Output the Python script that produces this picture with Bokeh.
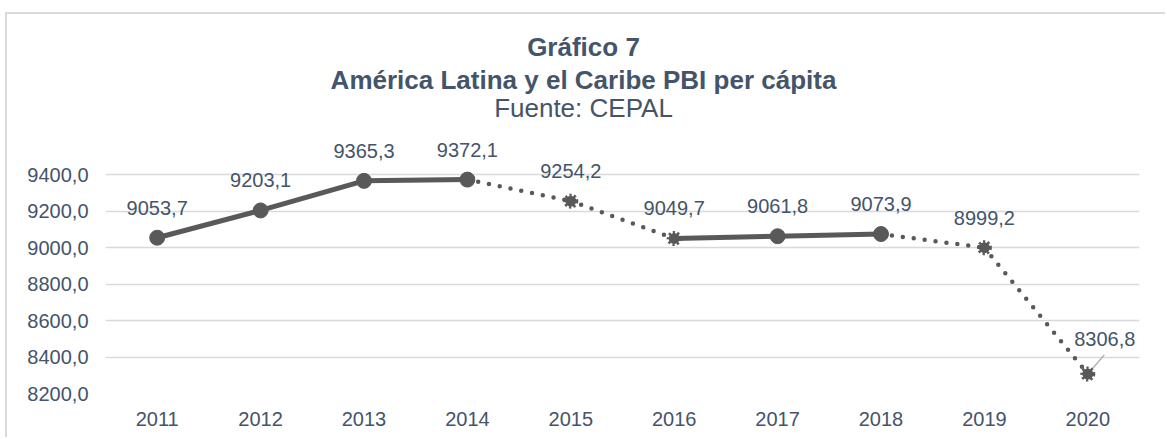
from bokeh.plotting import figure
from bokeh.models import ColumnDataSource, FixedTicker, Label
from bokeh.transform import dodge
from bokeh.core.properties import value
from bokeh.embed import file_html
from bokeh.resources import INLINE

years = ["2011", "2012", "2013", "2014", "2015", "2016", "2017", "2018", "2019", "2020"]
pbi = [9053.7, 9203.1, 9365.3, 9372.1, 9254.2, 9049.7, 9061.8, 9073.9, 8999.2, 8306.8]
labels = ["9053,7", "9203,1", "9365,3", "9372,1", "9254,2", "9049,7", "9061,8", "9073,9", "8999,2", "8306,8"]
# marker kind per point and line style per interval (as in the original chart)
marker_kind = ["c", "c", "c", "c", "g", "g", "c", "c", "g", "g"]
interval_dotted = [False, False, False, True, True, False, False, True, True]
yticks = [8200, 8400, 8600, 8800, 9000, 9200, 9400]
ytick_labels = ["8200,0", "8400,0", "8600,0", "8800,0", "9000,0", "9200,0", "9400,0"]

TXT = "#44546A"
LINE = "#595959"
FONT = "Liberation Sans"

# the frame spans the full height so the title lines can sit inside it
p = figure(x_range=years, y_range=(8200, 10277), width=1160, height=425,
           output_backend="svg", toolbar_location=None,
           min_border_left=98, min_border_right=28, min_border_top=0, min_border_bottom=46,
           styles={"border-top": "2px solid #D9D9D9", "border-left": "2px solid #D9D9D9",
                   "margin-left": "5px", "margin-top": "12px"})
p.outline_line_color = None
p.background_fill_color = "white"
p.border_fill_color = "white"

# grid / axes
p.xgrid.grid_line_color = None
p.ygrid.grid_line_color = "#D9D9D9"
p.ygrid.grid_line_width = 1.5
p.yaxis.ticker = FixedTicker(ticks=yticks)
p.yaxis.major_label_overrides = {t: l for t, l in zip(yticks, ytick_labels)}
for ax in (p.xaxis, p.yaxis):
    ax.axis_line_color = None
    ax.major_tick_line_color = None
    ax.minor_tick_line_color = None
    ax.major_label_text_font = FONT
    ax.major_label_text_font_size = "20px"
    ax.major_label_text_color = TXT
p.yaxis.major_label_standoff = 11
p.xaxis.major_label_standoff = 12

# segments
solid = dict(x0=[], y0=[], x1=[], y1=[])
dotted = dict(x0=[], y0=[], x1=[], y1=[])
for i, d in enumerate(interval_dotted):
    tgt = dotted if d else solid
    tgt["x0"].append(years[i]); tgt["y0"].append(pbi[i])
    tgt["x1"].append(years[i + 1]); tgt["y1"].append(pbi[i + 1])
p.segment("x0", "y0", "x1", "y1", source=ColumnDataSource(solid),
          line_color=LINE, line_width=5, line_cap="round")
p.segment("x0", "y0", "x1", "y1", source=ColumnDataSource(dotted),
          line_color=LINE, line_width=4.5, line_cap="round", line_dash="0 11")

# leader line for the last label
leader = ColumnDataSource(dict(x=[years[-1]], y0=[pbi[-1]], y1=[pbi[-1] + 105]))
p.segment(x0="x", y0="y0", x1=dodge("x", 0.16, range=p.x_range), y1="y1",
          source=leader, line_color="#A6A6A6", line_width=1.2)

# markers
cx = [y for y, k in zip(years, marker_kind) if k == "c"]
cy = [v for v, k in zip(pbi, marker_kind) if k == "c"]
gx = [y for y, k in zip(years, marker_kind) if k == "g"]
gy = [v for v, k in zip(pbi, marker_kind) if k == "g"]
p.scatter(cx, cy, marker="circle", size=15, fill_color=LINE, line_color=LINE)
p.scatter(gx, gy, marker="circle", size=11, fill_color=LINE, line_color=LINE,
          line_width=4, line_dash="2 2")

# data labels
xo = [0] * (len(years) - 1) + [17]
yo = [-30] * (len(years) - 1) + [-35]
p.text(x=years, y=pbi, text=labels, x_offset=xo, y_offset=yo,
       text_align="center", text_baseline="middle", text_font=value(FONT),
       text_font_size="20px", text_color=TXT)

# titles (screen units measured from the frame's bottom-left corner)
title_lines = [("Gráfico 7", "bold", 347), ("América Latina y el Caribe PBI per cápita", "bold", 314),
               ("Fuente: CEPAL", "normal", 286)]
for t, style, yy in title_lines:
    p.add_layout(Label(x=478, y=yy, x_units="screen", y_units="screen", text=t,
                       text_align="center", text_baseline="middle", text_font=FONT,
                       text_font_style=style, text_font_size="26px", text_color=TXT))

open("out.html", "w").write(file_html(p, INLINE))
